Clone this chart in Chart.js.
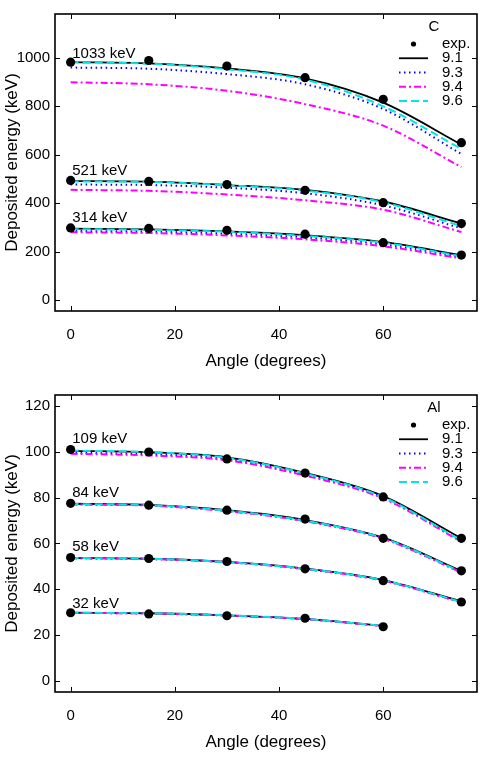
<!DOCTYPE html>
<html>
<head>
<meta charset="utf-8">
<title>Deposited energy vs angle</title>
<script src="https://cdn.jsdelivr.net/npm/chart.js@4.4.1/dist/chart.umd.min.js"></script>
<style>
  body { margin: 0; background: #fff; }
  .panel { width: 491px; height: 381px; }
</style>
</head>
<body>
<div class="panel"><canvas id="chartC" width="491" height="381"></canvas></div>
<div class="panel"><canvas id="chartAl" width="491" height="381"></canvas></div>
<script>
// model versions, in the order of the sim arrays below
const versions = ['9.1', '9.3', '9.4', '9.6'];
const angles = [0, 15, 30, 45, 60, 75];
const xTicks = [0, 20, 40, 60];
const cTicks = [0, 200, 400, 600, 800, 1000];
const alTicks = [0, 20, 40, 60, 80, 100, 120];

// Carbon
const cLabels = ['1033 keV', '521 keV', '314 keV'];
const cLabelY = [1000, 518, 322];
const c1033Exp = [982, 989, 966, 918, 829, 650];
const c1033Sim = [
  [982, 977, 956, 915, 815, 642],
  [960, 955, 933, 891, 789, 603],
  [899, 891, 864, 809, 720, 549],
  [982, 976, 953, 910, 800, 624]
];
const c521Exp = [494, 490, 477, 453, 402, 316];
const c521Sim = [
  [491, 489, 475, 455, 407, 316],
  [477, 475, 464, 441, 391, 296],
  [455, 451, 436, 412, 373, 281],
  [490, 488, 474, 452, 404, 305]
];
const c314Exp = [298, 296, 288, 272, 237, 186];
const c314Sim = [
  [295, 292, 284, 268, 240, 185],
  [285, 283, 274, 259, 230, 178],
  [280, 277, 267, 251, 222, 172],
  [293, 290, 282, 265, 237, 181]
];

// Aluminium
const alLabels = ['109 keV', '84 keV', '58 keV', '32 keV'];
const alLabelY = [103.7, 80.3, 56.8, 31.8];
const al109Exp = [101.0, 99.9, 96.9, 90.7, 80.3, 62.2];
const al109Sim = [
  [100.4, 99.8, 97.6, 90.8, 80.7, 62.2],
  [99.6, 98.9, 96.8, 90.1, 80.0, 61.0],
  [99.1, 98.4, 96.3, 89.6, 79.6, 60.7],
  [100.5, 99.9, 97.4, 90.5, 80.2, 61.2]
];
const al84Exp = [77.5, 76.7, 74.5, 70.6, 62.2, 48.0];
const al84Sim = [
  [77.3, 76.8, 74.5, 70.2, 62.5, 48.0],
  [77.1, 76.6, 74.2, 69.8, 62.1, 47.4],
  [77.0, 76.5, 74.1, 69.7, 62.0, 47.3],
  [77.2, 76.7, 74.3, 69.9, 62.3, 47.6]
];
const al58Exp = [53.8, 53.4, 52.1, 48.9, 43.7, 34.4];
const al58Sim = [
  [53.6, 53.3, 51.9, 49.0, 44.0, 34.7],
  [53.5, 53.2, 51.8, 48.8, 43.8, 34.3],
  [53.5, 53.2, 51.8, 48.8, 43.7, 34.2],
  [53.6, 53.3, 51.8, 48.9, 43.9, 34.4]
];
// 32 keV stops at 60 degrees
const al32Exp = [29.7, 29.2, 28.4, 27.3, 23.6];
const al32Sim = [
  [29.7, 29.5, 28.6, 27.0, 24.0],
  [29.6, 29.4, 28.5, 26.9, 23.9],
  [29.6, 29.4, 28.5, 26.9, 23.9],
  [29.7, 29.5, 28.6, 27.0, 24.0]
];

Chart.defaults.font.family = '"Liberation Sans", Arial, sans-serif';
Chart.defaults.color = '#000';

// line look per version (same order as versions)
const styles = [
  { color: '#000000', dash: [], width: 1.8 },
  { color: '#0000ff', dash: [1.5, 3.5], width: 2 },
  { color: '#ff00ff', dash: [7, 3, 2, 3], width: 2 },
  { color: '#00e5e5', dash: [8, 4], width: 2 }
];

function toPoints(values) {
  return values.map((v, i) => ({ x: angles[i], y: v }));
}

// one energy group: 4 model curves + measured points
function groupDatasets(expVals, simVals) {
  const sets = simVals.map((vals, i) => ({
    label: versions[i],
    data: toPoints(vals),
    showLine: true,
    borderColor: styles[i].color,
    borderDash: styles[i].dash,
    borderWidth: styles[i].width,
    pointRadius: 0,
    fill: false,
    cubicInterpolationMode: 'monotone',
    order: 4 - i
  }));
  sets.push({
    label: 'exp.',
    data: toPoints(expVals),
    showLine: false,
    pointRadius: 4.6,
    pointBackgroundColor: '#000',
    pointBorderColor: '#000',
    pointBorderWidth: 0,
    order: 0
  });
  return sets;
}

// frame with inward ticks on all four sides
const framePlugin = {
  id: 'frame',
  afterDraw(chart) {
    const { ctx, chartArea: a, scales } = chart;
    const len = 5;
    ctx.save();
    ctx.strokeStyle = '#000';
    ctx.lineWidth = 1;
    ctx.beginPath();
    scales.x.ticks.forEach(t => {
      const px = Math.round(scales.x.getPixelForValue(t.value)) + 0.5;
      ctx.moveTo(px, a.bottom); ctx.lineTo(px, a.bottom - len);
      ctx.moveTo(px, a.top); ctx.lineTo(px, a.top + len);
    });
    scales.y.ticks.forEach(t => {
      const py = Math.round(scales.y.getPixelForValue(t.value)) + 0.5;
      ctx.moveTo(a.left, py); ctx.lineTo(a.left + len, py);
      ctx.moveTo(a.right, py); ctx.lineTo(a.right - len, py);
    });
    ctx.stroke();
    ctx.lineWidth = 1.6;
    ctx.strokeRect(a.left, a.top, a.right - a.left, a.bottom - a.top);
    ctx.restore();
  }
};

// energy labels and the gnuplot-style key
const notesPlugin = {
  id: 'notes',
  afterDraw(chart, args, opts) {
    const { ctx, chartArea: a, scales } = chart;
    ctx.save();
    ctx.fillStyle = '#000';
    ctx.font = '15px "Liberation Sans", Arial, sans-serif';
    ctx.textBaseline = 'alphabetic';
    ctx.textAlign = 'left';
    opts.labels.forEach((txt, i) => {
      ctx.fillText(txt, scales.x.getPixelForValue(0.3), scales.y.getPixelForValue(opts.labelY[i]));
    });

    // key
    const lineX0 = a.right - 78, lineX1 = a.right - 49, textX = a.right - 35;
    const row0 = a.top + 30, rowStep = 14.25;
    ctx.textBaseline = 'middle';
    ctx.textAlign = 'center';
    ctx.fillText(opts.title, a.right - 43, a.top + 12.5);
    ctx.textAlign = 'left';
    ctx.fillText('exp.', textX, row0);
    ctx.beginPath();
    ctx.arc((lineX0 + lineX1) / 2, row0, 2.6, 0, Math.PI * 2);
    ctx.fill();
    versions.forEach((v, i) => {
      const y = row0 + rowStep * (i + 1);
      ctx.save();
      ctx.strokeStyle = styles[i].color;
      ctx.lineWidth = styles[i].width;
      ctx.setLineDash(styles[i].dash);
      ctx.beginPath();
      ctx.moveTo(lineX0, y);
      ctx.lineTo(lineX1, y);
      ctx.stroke();
      ctx.restore();
      ctx.fillText(v, textX, y);
    });
    ctx.restore();
  }
};

function makeChart(id, datasets, yMin, yMax, yTicks, notes) {
  return new Chart(document.getElementById(id), {
    type: 'scatter',
    data: { datasets: datasets },
    options: {
      responsive: false,
      animation: false,
      layout: { padding: { top: 13, right: 14, left: 0, bottom: 0 } },
      plugins: {
        legend: { display: false },
        tooltip: { enabled: false },
        notes: notes
      },
      scales: {
        x: {
          type: 'linear',
          min: -3,
          max: 78,
          afterBuildTicks: s => { s.ticks = xTicks.map(v => ({ value: v })); },
          afterFit: s => { s.height = 70; },
          grid: { display: false, drawTicks: false },
          border: { display: false },
          ticks: { padding: 15, font: { size: 15 }, maxRotation: 0, callback: v => String(v) },
          title: { display: true, text: 'Angle (degrees)', font: { size: 17 }, padding: { top: 0, bottom: 9 } }
        },
        y: {
          type: 'linear',
          min: yMin,
          max: yMax,
          afterBuildTicks: s => { s.ticks = yTicks.map(v => ({ value: v })); },
          afterFit: s => { s.width = 55; },
          grid: { display: false, drawTicks: false },
          border: { display: false },
          ticks: { padding: 5, font: { size: 15 }, callback: v => String(v) },
          title: { display: true, text: 'Deposited energy (keV)', font: { size: 17 }, padding: { top: 2, bottom: 0 } }
        }
      }
    },
    plugins: [framePlugin, notesPlugin]
  });
}

makeChart('chartC',
  [].concat(
    groupDatasets(c1033Exp, c1033Sim),
    groupDatasets(c521Exp, c521Sim),
    groupDatasets(c314Exp, c314Sim)
  ),
  -45, 1181, cTicks,
  { title: 'C', labels: cLabels, labelY: cLabelY }
);

makeChart('chartAl',
  [].concat(
    groupDatasets(al109Exp, al109Sim),
    groupDatasets(al84Exp, al84Sim),
    groupDatasets(al58Exp, al58Sim),
    groupDatasets(al32Exp, al32Sim)
  ),
  -4.9, 124.8, alTicks,
  { title: 'Al', labels: alLabels, labelY: alLabelY }
);
</script>
</body>
</html>
